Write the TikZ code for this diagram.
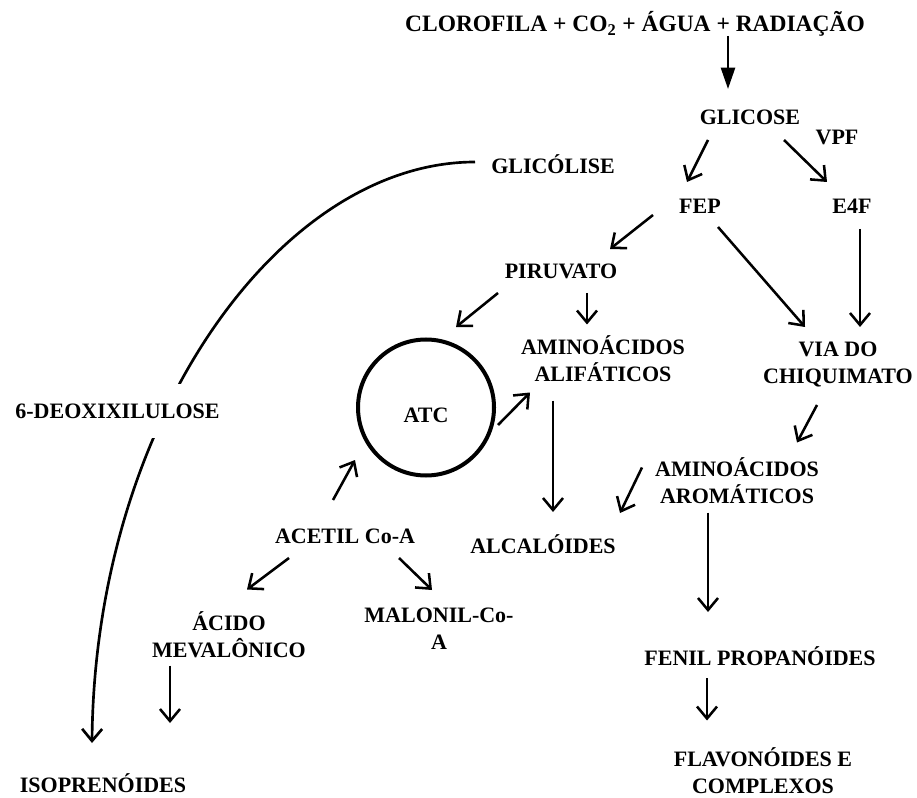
\documentclass[tikz,border=0pt]{standalone}
\usepackage{fontspec}
\setmainfont{Liberation Serif}
\usetikzlibrary{
    arrows.meta,
    backgrounds
}

\begin{document}
\begin{tikzpicture}[
    x=0.75pt, y=-0.75pt,
    font=\bfseries\fontsize{16.5}{20.25}\selectfont,
    % ── Node Styles ──
    txt/.style={inner sep=0pt, text height=11.2pt, text depth=0pt},
    twoline/.style={inner sep=0pt, align=center},
    krebs/.style={
        circle, draw, line width=3pt,
        minimum size=102pt, inner sep=0pt,
        text height=22.5pt, text depth=0pt
    },
    % ── Arrow Styles ──
    arr/.style={-{Straight Barb[length=9pt, width=15pt]}, line width=1.9pt},
    fillarr/.style={-{Triangle[length=16pt, width=10.5pt]}, line width=1.9pt},
    bendarr/.style={-{Straight Barb[length=9pt, width=15pt]}, line width=2pt},
]

\useasboundingbox (0,0) rectangle (917,798);

% ────────────────────────────────
%  PHOTOSYNTHESIS / GLICOSE
% ────────────────────────────────
\node[txt, font=\bfseries\fontsize{17.6}{21}\selectfont, text height=11.9pt]
    (photo) at (635,24) {CLOROFILA + CO\textsubscript{2} + ÁGUA + RADIAÇÃO};

\node[txt] (glicose) at (750,117.5) {GLICOSE};
\node[txt] (vpf) at (837,137) {VPF};
\node[txt] (glicolise) at (553,166) {GLICÓLISE};

\node[txt] (fep) at (700,206) {FEP};
\node[txt] (e4f) at (852,206) {E4F};

\draw[fillarr] ([shift={(93,12)}]photo.center) -- ([shift={(-22,-28.5)}]glicose.center);
\draw[arr] ([shift={(-42,22.5)}]glicose.center) -- ([shift={(-13,-24)}]fep.center);
\draw[arr] ([shift={(34,22.5)}]glicose.center) -- ([shift={(-25,-24)}]e4f.center);

% ────────────────────────────────
%  PIRUVATO / CHIQUIMATO
% ────────────────────────────────
\node[txt] (piruvato) at (561,271) {PIRUVATO};
\node[twoline] (alif) at (603,359) {AMINOÁCIDOS\\ALIFÁTICOS};
\node[twoline] (chiq) at (838,364.5) {VIA DO\\CHIQUIMATO};

\draw[arr] ([shift={(-47,9)}]fep.center) -- ([shift={(49,-22)}]piruvato.center);
\draw[arr] ([shift={(18,21)}]fep.center) -- ([shift={(-33,-37.5)}]chiq.center);
\draw[arr] ([shift={(8,23)}]e4f.center) -- ([shift={(22,-37.5)}]chiq.center);
\draw[arr] ([shift={(26,22)}]piruvato.center) -- ([shift={(-16,-34.5)}]alif.center);

% ────────────────────────────────
%  ATC CYCLE
% ────────────────────────────────
\node[krebs] (atc) at (426,407.5) {ATC};
\node[txt, fill=white, inner xsep=2pt, inner ysep=15pt] (deox) at (117.5,411) {6-DEOXIXILULOSE};

\draw[arr] ([shift={(-63,22)}]piruvato.center) -- ([shift={(30,-80.5)}]atc.center);
\draw[arr] ([shift={(72,17.5)}]atc.center) -- ([shift={(-73,33.5)}]alif.center);

% ────────────────────────────────
%  AMINO ACIDS / ALCALOIDS
% ────────────────────────────────
\node[twoline] (arom) at (737,481) {AMINOÁCIDOS\\AROMÁTICOS};
\node[txt] (alcal) at (543,546) {ALCALÓIDES};
\node[txt] (acetil) at (345,536) {ACETIL Co-A};

\draw[arr] ([shift={(-50,41.5)}]alif.center) -- ([shift={(10,-34)}]alcal.center);
\draw[arr] ([shift={(-21,40.5)}]chiq.center) -- ([shift={(60,-38.5)}]arom.center);
\draw[arr] ([shift={(-95,-13.5)}]arom.center) -- ([shift={(77,-33)}]alcal.center);
\draw[arr] ([shift={(-12,-36)}]acetil.center) -- ([shift={(-71,52.5)}]atc.center);

% ────────────────────────────────
%  LOWER PRODUCTS
% ────────────────────────────────
\node[twoline] (acido) at (229,635) {ÁCIDO\\MEVALÔNICO};
\node[twoline] (malonil) at (439,628.5) {MALONIL-Co-\\A};
\node[txt] (fenil) at (760,658) {FENIL PROPANÓIDES};
\node[twoline] (flavo) at (763,771) {FLAVONÓIDES E\\COMPLEXOS};
\node[txt] (iso) at (103,785) {ISOPRENÓIDES};

\draw[arr] ([shift={(-56,22)}]acetil.center) -- ([shift={(18,-45.5)}]acido.center);
\draw[arr] ([shift={(54,22)}]acetil.center) -- ([shift={(-7,-38.5)}]malonil.center);
\draw[arr] ([shift={(-59,30.5)}]acido.center) -- ([shift={(67,-62)}]iso.center);
\draw[arr] ([shift={(-29,31.5)}]arom.center) -- ([shift={(-52,-46)}]fenil.center);
\draw[arr] ([shift={(-53,20)}]fenil.center) -- ([shift={(-56,-50.5)}]flavo.center);

% Glicolise branch (behind the 6-deoxixilulose label)
\begin{scope}[on background layer]
    \draw[bendarr] ([shift={(-78,-4)}]glicolise.center)
        .. controls +(-195,0) and +(3,-323) .. ([shift={(-11,-42)}]iso.center);
\end{scope}

\end{tikzpicture}
\end{document}
